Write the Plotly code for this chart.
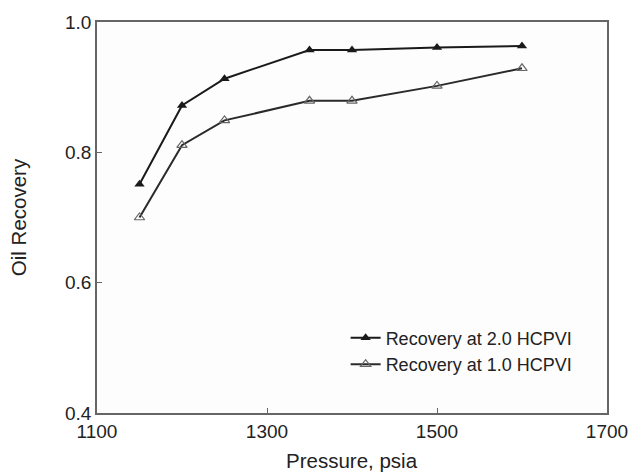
import plotly.graph_objects as go

pressure = [1150, 1200, 1250, 1350, 1400, 1500, 1600]
rec_2_0 = [0.751, 0.872, 0.913, 0.957, 0.957, 0.961, 0.963]
rec_1_0 = [0.700, 0.811, 0.849, 0.879, 0.879, 0.902, 0.929]
x_ticks = [1100, 1300, 1500, 1700]
y_ticks = [0.4, 0.6, 0.8, 1.0]
x_title = "Pressure, psia"
y_title = "Oil Recovery"

fig = go.Figure()
fig.add_trace(go.Scatter(
    x=pressure, y=rec_2_0, mode="lines+markers", name="Recovery at 2.0 HCPVI",
    line=dict(color="#1a1a1a", width=2),
    marker=dict(symbol="triangle-up", size=9, color="#1a1a1a"),
))
fig.add_trace(go.Scatter(
    x=pressure, y=rec_1_0, mode="lines+markers", name="Recovery at 1.0 HCPVI",
    line=dict(color="#2a2a2a", width=2),
    marker=dict(symbol="triangle-up-open", size=9, color="#666666", line=dict(width=1.2)),
))

axis_common = dict(
    showgrid=False, zeroline=False, showline=True, linecolor="#666666", linewidth=1.5,
    mirror=True, ticks="inside", ticklen=5, tickcolor="#666666",
    tickfont=dict(family="Liberation Sans, Arial", size=19, color="#222222"),
)
fig.update_layout(
    width=640, height=472,
    margin=dict(l=97, r=24, t=20, b=59),
    paper_bgcolor="white", plot_bgcolor="#fdfdfd",
    font=dict(family="Liberation Sans, Arial", color="#222222"),
    xaxis=dict(range=[1100, 1700], tickvals=x_ticks, ticktext=[str(v) for v in x_ticks],
               **axis_common),
    yaxis=dict(range=[0.4, 1.0], tickvals=y_ticks, ticktext=[f"{v:.1f}" for v in y_ticks],
               title=dict(text=y_title, font=dict(size=20.5), standoff=33), **axis_common),
    legend=dict(x=0.4875, y=0.239, xanchor="left", yanchor="top", bgcolor="rgba(0,0,0,0)",
                font=dict(size=18, family="Liberation Sans, Arial")),
    annotations=[dict(text=x_title, xref="paper", yref="paper", x=0.5, y=0,
                      xanchor="center", yanchor="top", yshift=-34, showarrow=False,
                      font=dict(size=20.5, family="Liberation Sans, Arial", color="#222222"))],
)
fig.write_html("out.html")
